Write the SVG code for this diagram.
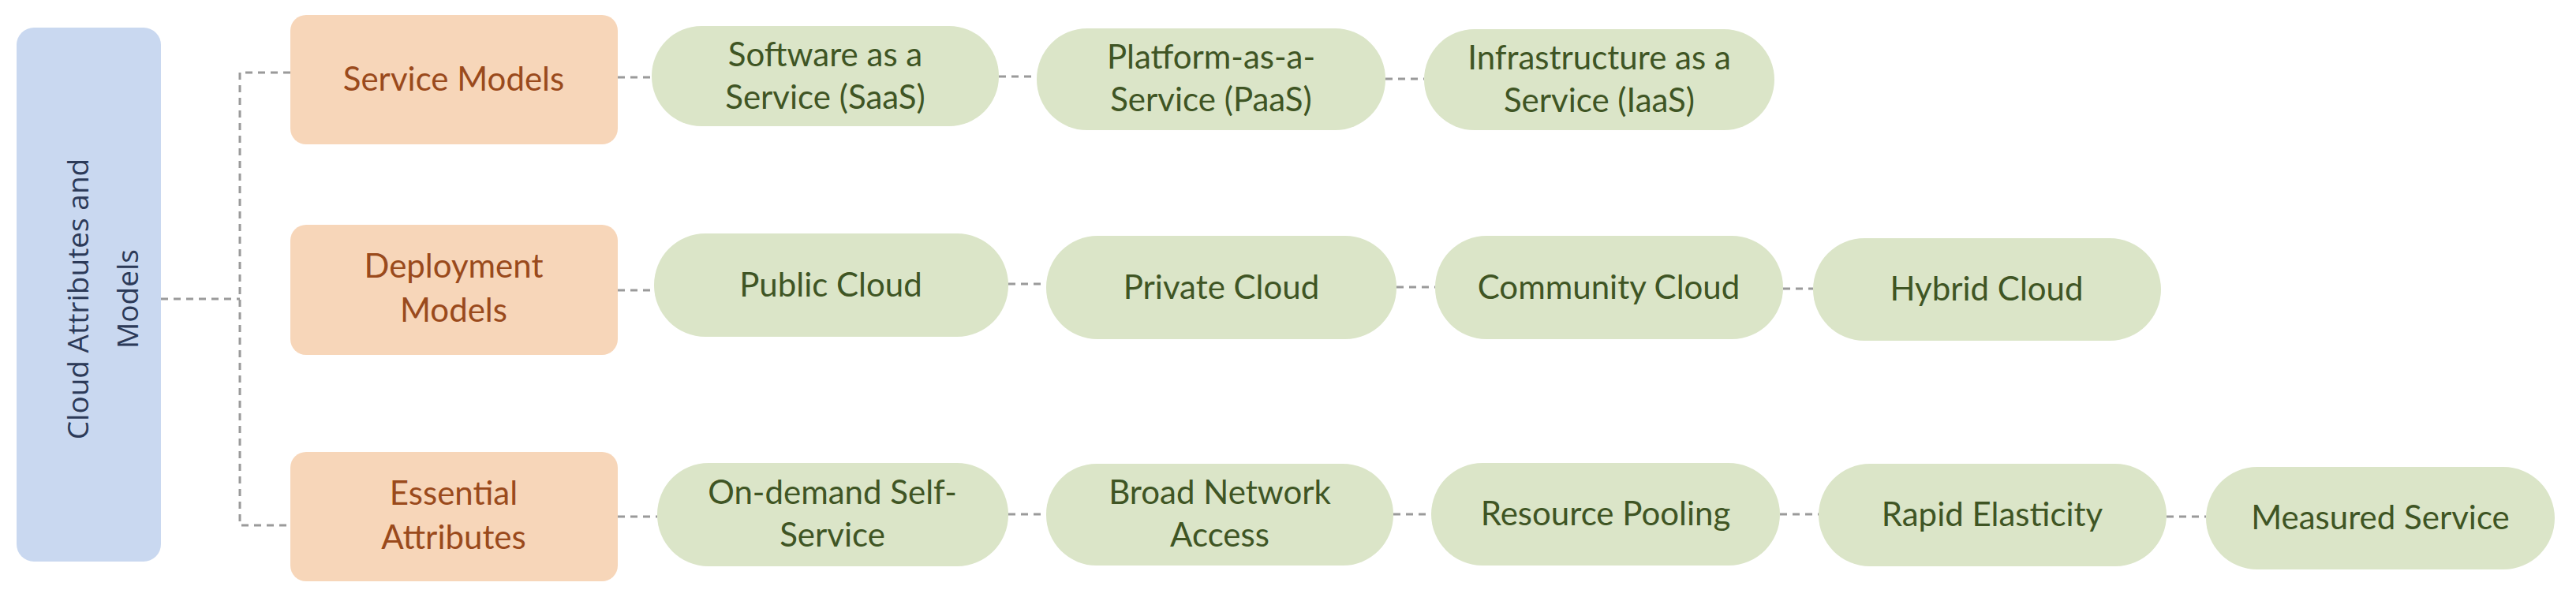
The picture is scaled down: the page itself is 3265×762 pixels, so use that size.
<svg xmlns="http://www.w3.org/2000/svg" width="3265" height="762" viewBox="0 0 3265 762">
<style>
.root{fill:#c9d8f0}
.cat{fill:#f7d6b9}
.pill{fill:#dbe5c8}
.rt{font-family:"Open Sans",sans-serif;font-size:37px;fill:#2c3a58;text-anchor:middle}
.ct{font-family:Lato,"Liberation Sans",sans-serif;font-size:42px;fill:#9a4a1c;text-anchor:middle}
.pt{font-family:Lato,"Liberation Sans",sans-serif;font-size:42px;fill:#3f5524;text-anchor:middle}
.con line,.con path{stroke:#9a9a9a;stroke-width:3;stroke-dasharray:9 7;fill:none}
</style>
<rect width="3265" height="762" fill="#fff"/>
<g class="con">
<line x1="204" y1="379" x2="304" y2="379"/>
<path d="M368 92 H304 V666 H368"/>
<line x1="783" y1="98" x2="826" y2="98"/>
<line x1="783" y1="368" x2="829" y2="368"/>
<line x1="783" y1="655" x2="833" y2="655"/>
<line x1="1266" y1="97" x2="1314" y2="97"/>
<line x1="1756" y1="100" x2="1805" y2="100"/>
<line x1="1278" y1="360" x2="1326" y2="360"/>
<line x1="1770" y1="364" x2="1819" y2="364"/>
<line x1="2260" y1="366" x2="2298" y2="366"/>
<line x1="1278" y1="652" x2="1326" y2="652"/>
<line x1="1766" y1="652" x2="1814" y2="652"/>
<line x1="2256" y1="652" x2="2305" y2="652"/>
<line x1="2746" y1="655" x2="2796" y2="655"/>
</g>
<g id="root"><rect class="root" x="21" y="35" width="183" height="677" rx="22"/>
<text class="rt" transform="translate(112,379) rotate(-90)">Cloud Attributes and</text>
<text class="rt" transform="translate(175,379) rotate(-90)">Models</text></g>
<g id="service-models"><rect class="cat" x="368" y="19" width="415" height="164" rx="20"/><text class="ct" x="575" y="115">Service Models</text></g>
<g id="deployment-models"><rect class="cat" x="368" y="285" width="415" height="165" rx="20"/><text class="ct" x="575" y="352">Deployment</text><text class="ct" x="575" y="408">Models</text></g>
<g id="essential-attributes"><rect class="cat" x="368" y="573" width="415" height="164" rx="20"/><text class="ct" x="575" y="640">Essential</text><text class="ct" x="575" y="696">Attributes</text></g>
<g id="saas"><rect class="pill" x="826" y="33" width="440" height="127" rx="63"/><text class="pt" x="1046" y="84">Software as a</text><text class="pt" x="1046" y="138">Service (SaaS)</text></g>
<g id="paas"><rect class="pill" x="1314" y="36" width="442" height="129" rx="64"/><text class="pt" x="1535" y="87">Platform-as-a-</text><text class="pt" x="1535" y="141">Service (PaaS)</text></g>
<g id="iaas"><rect class="pill" x="1805" y="37" width="444" height="128" rx="64"/><text class="pt" x="2027" y="88">Infrastructure as a</text><text class="pt" x="2027" y="142">Service (IaaS)</text></g>
<g id="public"><rect class="pill" x="829" y="296" width="449" height="131" rx="65"/><text class="pt" x="1053" y="376">Public Cloud</text></g>
<g id="private"><rect class="pill" x="1326" y="299" width="444" height="131" rx="65"/><text class="pt" x="1548" y="379">Private Cloud</text></g>
<g id="community"><rect class="pill" x="1819" y="299" width="441" height="131" rx="65"/><text class="pt" x="2039" y="379">Community Cloud</text></g>
<g id="hybrid"><rect class="pill" x="2298" y="302" width="441" height="130" rx="65"/><text class="pt" x="2518" y="381">Hybrid Cloud</text></g>
<g id="ondemand"><rect class="pill" x="833" y="587" width="445" height="131" rx="65"/><text class="pt" x="1055" y="639">On-demand Self-</text><text class="pt" x="1055" y="693">Service</text></g>
<g id="broad"><rect class="pill" x="1326" y="588" width="440" height="129" rx="64"/><text class="pt" x="1546" y="639">Broad Network</text><text class="pt" x="1546" y="693">Access</text></g>
<g id="pooling"><rect class="pill" x="1814" y="587" width="442" height="130" rx="65"/><text class="pt" x="2035" y="666">Resource Pooling</text></g>
<g id="elasticity"><rect class="pill" x="2305" y="588" width="441" height="130" rx="65"/><text class="pt" x="2525" y="667">Rapid Elasticity</text></g>
<g id="measured"><rect class="pill" x="2796" y="592" width="442" height="130" rx="65"/><text class="pt" x="3017" y="671">Measured Service</text></g>
</svg>
